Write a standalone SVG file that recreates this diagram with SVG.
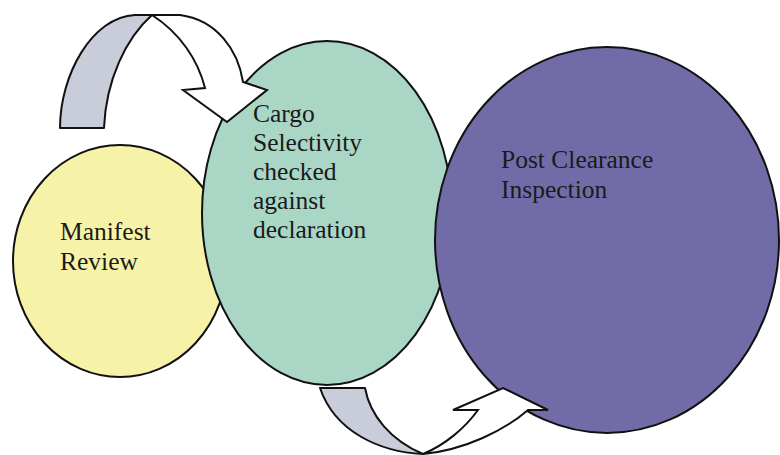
<svg xmlns="http://www.w3.org/2000/svg" width="780" height="455" viewBox="0 0 780 455">
  <style>
    .node { stroke: #111; stroke-width: 2; }
    .label { font-family: 'Liberation Serif', 'Times New Roman', serif; font-size: 25.5px; fill: #1a1a1a; }
    .back { fill: #c9ccd9; stroke: #111; stroke-width: 2; stroke-linejoin: round; }
    .front { fill: #ffffff; stroke: #111; stroke-width: 2; stroke-linejoin: miter; }
  </style>
  <rect width="780" height="455" fill="#ffffff"/>

  <g id="manifest-review">
    <ellipse class="node" cx="120" cy="261" rx="107" ry="116" fill="#f6f3a8"/>
    <text class="label" x="60" y="240">Manifest</text>
    <text class="label" x="60" y="270">Review</text>
  </g>

  <g id="cargo-selectivity">
    <ellipse class="node" cx="327" cy="213" rx="125" ry="172" fill="#a9d6c5"/>
    <text class="label" x="253" y="122">Cargo</text>
    <text class="label" x="253" y="151">Selectivity</text>
    <text class="label" x="253" y="180">checked</text>
    <text class="label" x="253" y="209">against</text>
    <text class="label" x="253" y="238">declaration</text>
  </g>

  <g id="post-clearance">
    <ellipse class="node" cx="607" cy="240" rx="172" ry="193" fill="#716ca8"/>
    <text class="label" x="501" y="168" font-size="26.5">Post Clearance</text>
    <text class="label" x="501" y="198" font-size="26.5">Inspection</text>
  </g>

  <g id="connectors">
    <!-- curved arrow over the top, into Cargo Selectivity -->
    <path class="back" d="M60,128 C60,75 92,17 135,15 L152,15 C126,38 106,80 104,128 Z"/>
    <path class="front" d="M152,15 L180,15 C217,20 238,50 243,82 L267,90 L227,122 L183,90 L205,88 C198,60 180,33 152,15 Z"/>
    <!-- curved arrow underneath, into Post Clearance -->
    <path class="back" d="M320,388 L365,388 C370,415 390,440 423,454 C380,452 335,432 320,388 Z"/>
    <path class="front" d="M423,454 C465,450 505,430 528,410 L548,410 L503,388 L453,410 L478,410 C465,428 445,445 423,454 Z"/>
  </g>
</svg>
